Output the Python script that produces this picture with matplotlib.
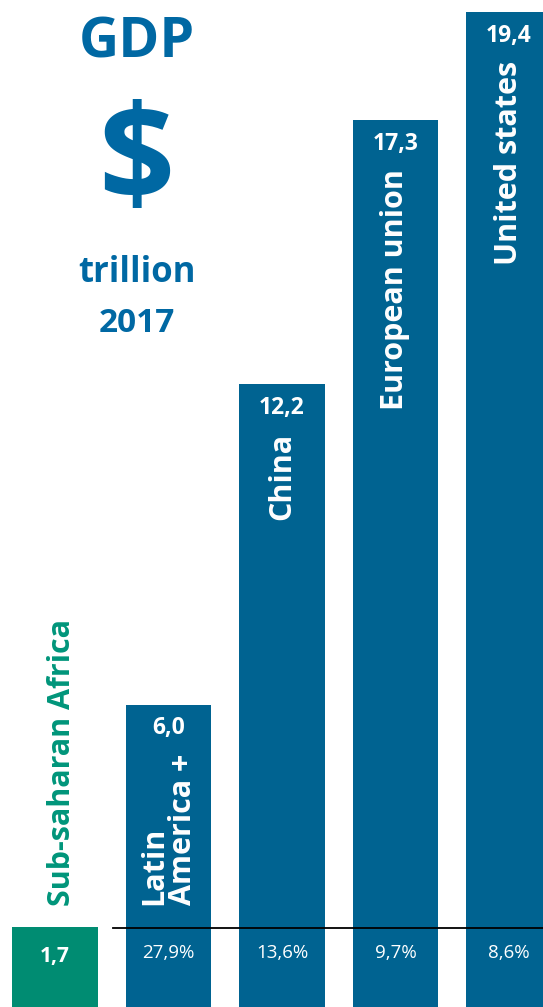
import numpy as np
import matplotlib.pyplot as plt

plt.rcParams['font.family'] = ['Open Sans', 'DejaVu Sans']

# data
regions = ["Sub-saharan Africa", "Latin\nAmerica +", "China", "European union", "United states"]
gdp = [1.7, 6.0, 12.2, 17.3, 19.4]
gdp_labels = ["1,7", "6,0", "12,2", "17,3", "19,4"]
shares = ["", "27,9%", "13,6%", "9,7%", "8,6%"]

blue = '#006391'
green = '#008c72'
title_blue = '#0068a3'
label_green = '#00957a'

fig = plt.figure(figsize=(5.43, 10.07), dpi=100)
ax = fig.add_axes([0, 0, 1, 1])
ax.axis('off')

x = np.arange(len(gdp))
colors = [green] + [blue] * (len(gdp) - 1)
ax.bar(x, gdp, width=0.75, color=colors)
ax.set_xlim(-0.485, 4.3)
ax.set_ylim(0.155, 19.63)

# line separating the share strip
ax.plot([0.51, 4.3], [1.68, 1.68], color='black', lw=1.3)

# value labels
ax.text(0, 1.14, gdp_labels[0], color='white', fontsize=15, fontweight='bold',
        ha='center', va='center')
for i in range(1, len(gdp)):
    ax.annotate(gdp_labels[i], xy=(x[i], gdp[i]), xytext=(0, -17),
                textcoords='offset points', ha='center', va='center',
                color='white', fontsize=16.5, fontweight='bold')
    ax.annotate(regions[i], xy=(x[i], gdp[i]), xytext=(0, -35),
                textcoords='offset points', ha='center', va='top',
                rotation=90, multialignment='left', linespacing=0.95,
                color='white', fontsize=22, fontweight='bold')
    ax.text(x[i], 1.2, shares[i], color='white', fontsize=13.5,
            ha='center', va='center')

ax.annotate(regions[0], xy=(x[0] + 0.06, gdp[0]), xytext=(0, 15),
            textcoords='offset points', ha='center', va='bottom',
            rotation=90, color=label_green, fontsize=22, fontweight='bold')

# title block
fig.text(0.252, 0.943, "GDP", color=title_blue, fontsize=40, fontweight='bold',
         ha='center', va='baseline')
fig.text(0.251, 0.836, "$", color=title_blue, fontsize=96, fontweight='bold',
         ha='center', va='center')
fig.text(0.252, 0.720, "trillion", color=title_blue, fontsize=25, fontweight='bold',
         ha='center', va='baseline')
fig.text(0.252, 0.670, "2017", color=title_blue, fontsize=24, fontweight='bold',
         ha='center', va='baseline')

fig.savefig('out.png', dpi=100)
